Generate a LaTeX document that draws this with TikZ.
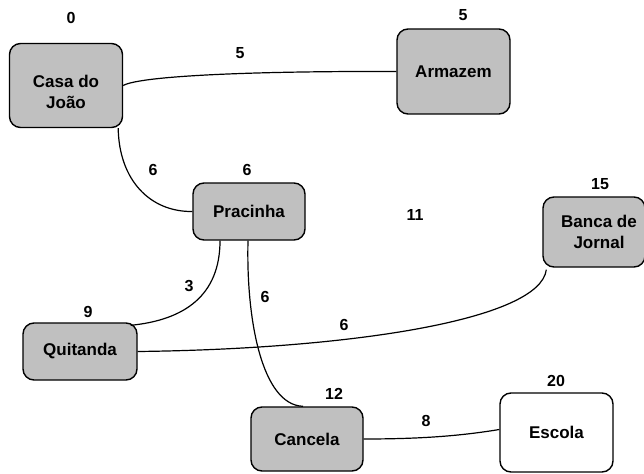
\documentclass[tikz,border=0pt]{standalone}
\usepackage{fontspec}
\setmainfont{Liberation Sans}
\begin{document}
\begin{tikzpicture}[x=1pt,y=-1pt,
  place/.style={draw=black, line width=1.4pt, rounded corners=11pt, fill=boxgray, inner sep=0pt, align=center,
    font=\bfseries\fontsize{17}{21}\selectfont},
  whiteplace/.style={place, fill=white},
  lbl/.style={inner sep=0pt, align=center, font=\bfseries\fontsize{17}{21}\selectfont},
  num/.style={inner sep=0pt, font=\bfseries\fontsize{16}{18}\selectfont},
  edge/.style={draw=black, line width=1.2pt}]
\definecolor{boxgray}{HTML}{C0C0C0}
\useasboundingbox (0,0) rectangle (644,473);
% places
\node[place, minimum width=113pt, minimum height=84pt] (casa) at (66,85.5) {};
\node[lbl] (casatxt) at ([yshift=-6pt]casa.center) {Casa do\\João};
\node[place, minimum width=113pt, minimum height=85pt] (arm) at (453.5,71.5) {Armazem};
\node[place, minimum width=112pt, minimum height=57pt] (prac) at (249,211.5) {Pracinha};
\node[place, minimum width=102pt, minimum height=70pt] (banca) at (594,232) {};
\node[lbl] (bancatxt) at ([xshift=5pt]banca.center) {Banca de\\Jornal};
\node[place, minimum width=114pt, minimum height=57pt] (quit) at (80,351.5) {Quitanda};
\node[place, minimum width=112pt, minimum height=64pt] (canc) at (307,439) {Cancela};
\node[whiteplace, minimum width=113pt, minimum height=79pt] (esc) at (556.5,432.5) {Escola};
% node values
\node[num] (v0) at (71,18) {0};
\node[num] (v5) at (463,15) {5};
\node[num] (v6) at (247,170) {6};
\node[num] (v11) at (415,215) {11};
\node[num] (v15) at (600,184) {15};
\node[num] (v9) at (88,312) {9};
\node[num] (v12) at (334,394) {12};
\node[num] (v20) at (556,381) {20};
% edge weights
\node[num] (w1) at (240,53) {5};
\node[num] (w2) at (153,170) {6};
\node[num] (w3) at (189,286) {3};
\node[num] (w4) at (265,297) {6};
\node[num] (w5) at (344,325) {6};
\node[num] (w6) at (426,421) {8};
% connectors
\draw[edge] (casa.east) .. controls (140,76) and (250,71) .. (arm.west);
\draw[edge] ([xshift=-5pt]casa.south east) .. controls (119,180) and (150,212) .. (prac.west);
\draw[edge] ([xshift=-29pt]prac.south) .. controls (220,295) and (185,320) .. ([xshift=-7pt,yshift=-3pt]quit.north east);
\draw[edge] ([xshift=-1pt]prac.south) .. controls (246,320) and (262,405) .. ([xshift=-4pt]canc.north);
\draw[edge] (quit.east) .. controls (350,349) and (540,320) .. ([xshift=4pt,yshift=-2pt]banca.south west);
\draw[edge] (canc.east) .. controls (420,439) and (460,436) .. ([yshift=3pt]esc.west);
\end{tikzpicture}
\end{document}
